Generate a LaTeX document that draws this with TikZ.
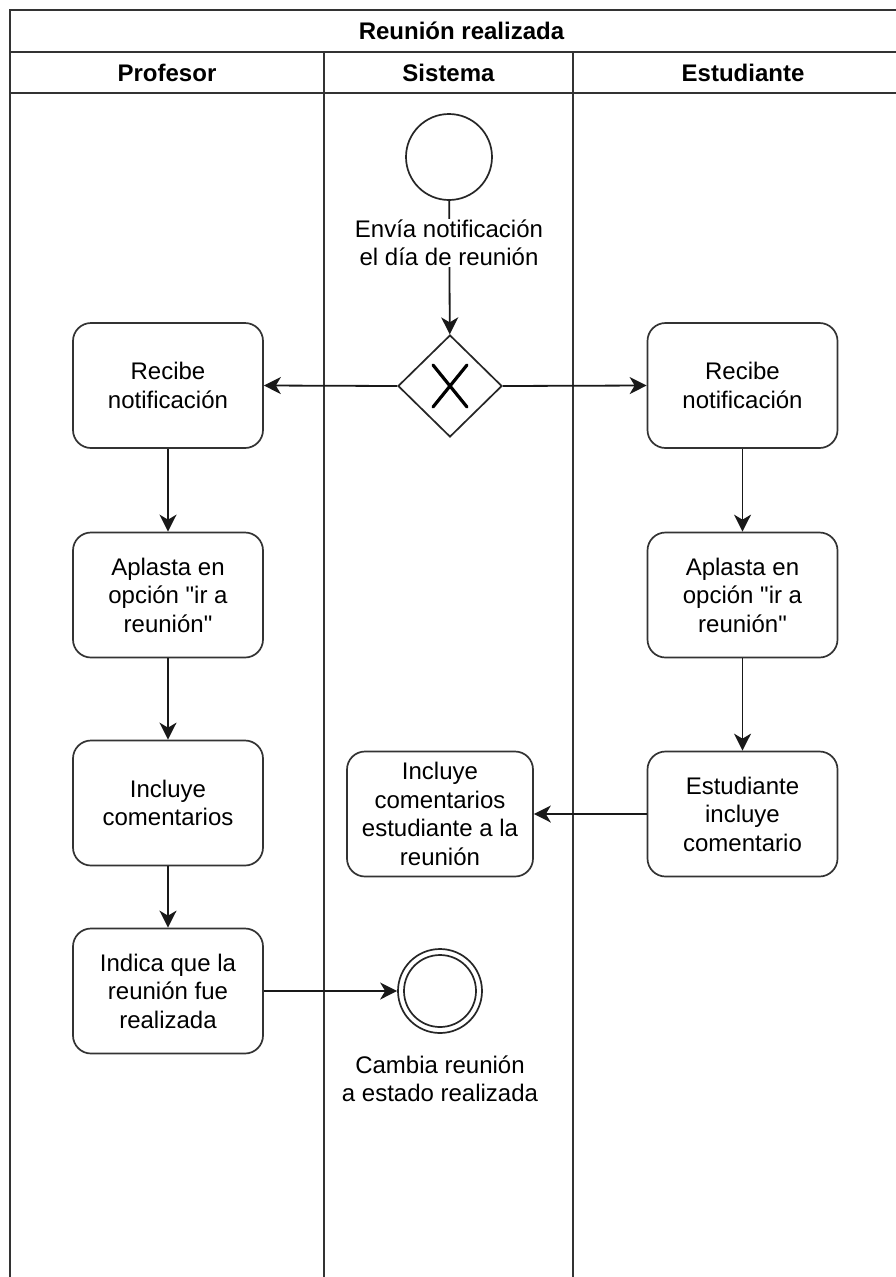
\documentclass[tikz,border=0pt]{standalone}
\usepackage{fontspec}
% no TeX ligature mapping, so " stays a straight quote
\setmainfont{Liberation Sans}[Ligatures=TeXOff]
\usetikzlibrary{arrows.meta,shapes.geometric}

\begin{document}
\begin{tikzpicture}[x=1pt,y=-1pt,
  lane/.style={line width=2pt, draw=black!80},
  task/.style={draw=black!80, line width=1.7pt, rounded corners=18pt,
    minimum width=190pt, minimum height=125pt, inner sep=0pt,
    align=center, font=\fontsize{24}{28.5}\selectfont},
  flow/.style={line width=1.8pt, draw=black!90,
    -{Stealth[length=17pt,width=17pt,inset=5pt]}},
  hdr/.style={font=\bfseries\fontsize{24}{28.5}\selectfont},
  lbl/.style={font=\fontsize{24}{28.5}\selectfont, align=center,
    fill=white, inner sep=1pt},
  event/.style={circle, draw=black!85, line width=1.7pt, inner sep=0pt}
]
\clip (0,0) rectangle (896,1277);
\fill[white] (0,0) rectangle (896,1277);

% pool and lanes (the pool continues past the right and bottom edges)
\draw[lane] (10,1300) -- (10,10) -- (913,10) -- (913,1300);
\draw[lane] (10,52) -- (913,52);
\draw[lane] (10,93) -- (913,93);
\draw[lane] (324,52) -- (324,1300);
\draw[lane] (573,52) -- (573,1300);

\node[hdr] (pool) at (461.5,31) {Reunión realizada};
\node[hdr] (lprof) at (167,73) {Profesor};
\node[hdr] (lsis) at (448.5,73) {Sistema};
\node[hdr] (lest) at (743,73) {Estudiante};

% events and gateway
\node[event, minimum size=86pt] (start) at (449,157) {};
\node[diamond, draw=black!85, line width=1.7pt, inner sep=0pt, aspect=1,
  minimum width=104pt, minimum height=102pt] (gw) at (450,386) {};
\draw[line width=3.2pt, line cap=round] (gw.center) ++(-17,-21) -- ++(34,42);
\draw[line width=3.2pt, line cap=round] (gw.center) ++(17,-21) -- ++(-34,42);

\node[event, minimum size=84pt] (end) at (440,991) {};
\draw[line width=1.7pt, draw=black!85] (end.center) circle (36);

% tasks
\node[task] (p1) at (168,385.5) {Recibe\\notificación};
\node[task] (p2) at (168,595) {Aplasta en\\opción "ir a\\reunión"};
\node[task] (p3) at (168,803) {Incluye\\comentarios};
\node[task] (p4) at (168,991) {Indica que la\\reunión fue\\realizada};

\node[task] (e1) at (742.5,385.5) {Recibe\\notificación};
\node[task] (e2) at (742.5,595) {Aplasta en\\opción "ir a\\reunión"};
\node[task] (e3) at (742.5,814) {Estudiante\\incluye\\comentario};

\node[task, minimum width=186pt] (s1) at (440,814)
  {Incluye\\comentarios\\estudiante a la\\reunión};

% sequence flows
\draw[flow] (start) -- (gw);
\node[lbl] (startlbl) at (449,243) {Envía notificación\\el día de reunión};
\draw[flow] (gw.west) -- (p1.east);
\draw[flow] (gw.east) -- (e1.west);
\draw[flow] (p1) -- (p2);
\draw[flow] (p2) -- (p3);
\draw[flow] (p3) -- (p4);
\draw[flow] (e1) -- (e2);
\draw[flow] (e2) -- (e3);
\draw[flow] (e3) -- (s1);
\draw[flow] (p4.east) -- (end.west);
\node[lbl] (endlbl) at (440,1079) {Cambia reunión\\a estado realizada};
\end{tikzpicture}
\end{document}
